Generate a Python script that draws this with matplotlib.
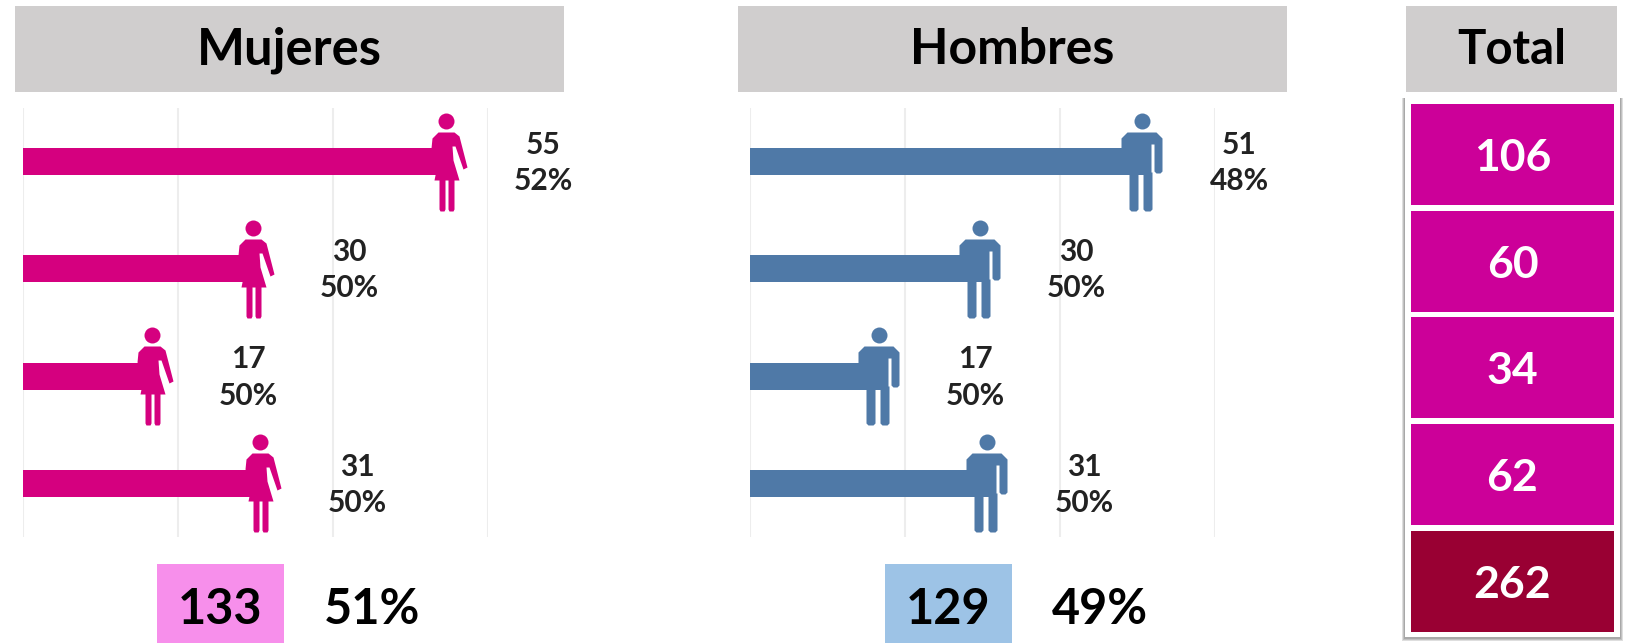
import numpy as np
import matplotlib
matplotlib.use('Agg')
import matplotlib.pyplot as plt
from matplotlib.path import Path
from matplotlib.patches import Rectangle

plt.rcParams['font.family'] = ['Lato', 'DejaVu Sans']

# data
mujeres = [55, 30, 17, 31]
mujeres_pct = ['52%', '50%', '50%', '50%']
hombres = [51, 30, 17, 31]
hombres_pct = ['48%', '50%', '50%', '50%']
totales = ['106', '60', '34', '62', '262']
resumen_mujeres = ['133', '51%']
resumen_hombres = ['129', '49%']
ticks = [0, 20, 40, 60]

W, H = 1629, 643
ROSA = '#D5007F'
AZUL = '#4F79A7'
GRIS = '#D0CECE'


def poly(pts, dx=-3):
    pts = [(x + dx, y) for x, y in pts]
    codes = [Path.MOVETO] + [Path.LINETO] * (len(pts) - 1) + [Path.CLOSEPOLY]
    return Path(pts + [pts[0]], codes)


def head(y=41, r=8):
    return Path.circle((-3, y), r)


# person icons, units are pixels around the icon centre, y up
def woman_icon():
    parts = [
        head(),
        poly([(-8, 30), (8, 30), (13, 26), (21, -5), (17, -7), (9, 16), (6, 16),
              (7, 2), (13, -18), (-12, -18), (-8, 2), (-15, 14), (-14, 24)]),
        poly([(-7, -18), (-1, -18), (-1, -47), (-2, -49), (-6, -49), (-7, -47)]),
        poly([(2, -18), (8, -18), (8, -47), (7, -49), (3, -49), (2, -47)]),
    ]
    return Path.make_compound_path(*parts)


def man_icon():
    parts = [
        head(),
        poly([(-15, 30), (14, 30), (20, 24), (20, -9), (18, -11), (14, -11), (12, -9),
              (12, 18), (9, 18), (9, -10), (-14, -10), (-21, 0), (-21, 24)]),
        poly([(-13, -10), (-4, -10), (-4, -47), (-6, -49), (-11, -49), (-13, -47)]),
        poly([(1, -10), (10, -10), (10, -47), (8, -49), (3, -49), (1, -47)]),
    ]
    return Path.make_compound_path(*parts)


def panel(fig, x0, vals, pcts, color, icon):
    ax = fig.add_axes([x0 / W, 1 - 537 / H, 465 / W, 429 / H])
    y = np.arange(len(vals))
    ax.barh(y, vals, height=0.25, color=color, zorder=3)
    ax.scatter(vals, y, marker=icon, s=(98 * 0.72) ** 2, color=color,
               linewidths=0, zorder=4, clip_on=False)
    for i, v in enumerate(vals):
        ax.annotate('%d\n%s' % (v, pcts[i]), (v, i), xytext=(67.5, -1),
                    textcoords='offset points', ha='center', va='center',
                    fontsize=21.5, fontweight='bold', linespacing=1.36, color='#222222')
    ax.set_xlim(ticks[0], ticks[-1])
    ax.set_ylim(len(vals) - 0.5, -0.5)
    ax.set_xticks(ticks)
    ax.set_yticks([])
    ax.tick_params(length=0, labelbottom=False)
    ax.grid(axis='x', color='#EDEDED', linewidth=1.5, zorder=0)
    ax.set_axisbelow(True)
    for s in ax.spines.values():
        s.set_visible(False)
    ax.patch.set_alpha(0)


fig = plt.figure(figsize=(W / 100, H / 100), dpi=100)

# full figure layer in pixels for the boxes around the charts
bg = fig.add_axes([0, 0, 1, 1], zorder=-1)
bg.set_xlim(0, W)
bg.set_ylim(H, 0)
bg.axis('off')


def box(x0, y0, x1, y1, color, **kw):
    bg.add_patch(Rectangle((x0, y0), x1 - x0, y1 - y0, facecolor=color, edgecolor='none', **kw))


def label(x, y, s, size, color='black'):
    bg.text(x, y, s, ha='center', va='center', fontsize=size, fontweight='bold', color=color)


# headers
for x0, x1, name, size in [(15, 564, 'Mujeres', 36.5), (738, 1287, 'Hombres', 36), (1406, 1617, 'Total', 34)]:
    box(x0, 6, x1, 92, GRIS)
    label((x0 + x1) / 2, 50, name, size)

panel(fig, 23, mujeres, mujeres_pct, ROSA, woman_icon())
panel(fig, 750, hombres, hombres_pct, AZUL, man_icon())

# total column, soft shadow then white frame
for pad in [3, 2, 1]:
    box(1405 - pad, 98, 1620 + pad, 637 + pad + 1, 'black', alpha=0.13)
box(1405, 98, 1620, 637, 'white')
tops = [104, 211, 317, 424, 531]
for i, t in enumerate(totales):
    c = '#990033' if i == len(totales) - 1 else '#CC0099'
    box(1411, tops[i], 1614, tops[i] + 101, c)
    label(1512.5, tops[i] + 54, t, 32, 'white')

# bottom summary
box(157, 564, 284, 643, '#F78FEB')
label(220, 610, resumen_mujeres[0], 35)
label(372, 610, resumen_mujeres[1], 35)
box(885, 564, 1012, 643, '#9DC3E6')
label(948, 610, resumen_hombres[0], 35)
label(1100, 610, resumen_hombres[1], 35)

fig.savefig('out.png', dpi=100)
